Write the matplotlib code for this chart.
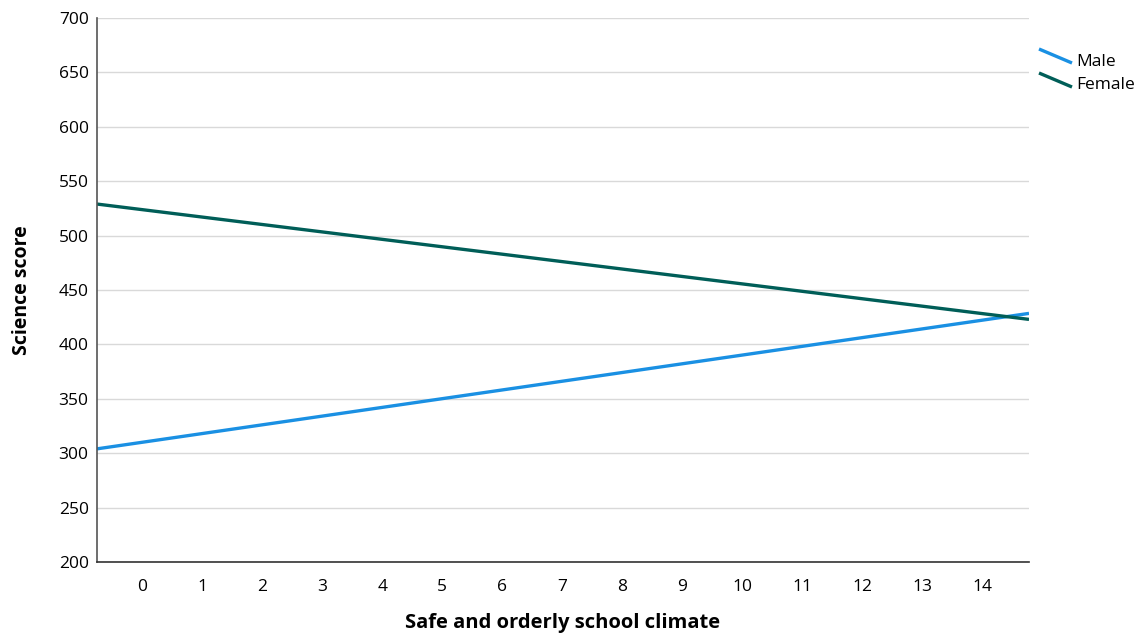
import matplotlib
matplotlib.use("Agg")
import matplotlib.pyplot as plt
from matplotlib.lines import Line2D

plt.rcParams['font.family'] = ['Open Sans', 'DejaVu Sans']

# Data
x_range = [-0.75, 14.77]
male_scores = [304, 428.5]
female_scores = [529, 423]
series_names = ["Male", "Female"]
x_ticks = list(range(0, 15))
y_ticks = [200, 250, 300, 350, 400, 450, 500, 550, 600, 650, 700]

colors = {"Male": "#1a90e3", "Female": "#005e58"}

W, H = 1141, 635
fig = plt.figure(figsize=(W/100, H/100), dpi=100)
ax = fig.add_axes([97/W, 1 - 562/H, (1029-97)/W, (562-18)/H])

ax.plot(x_range, male_scores, color=colors["Male"], lw=2.4, label="Male", solid_capstyle='butt')
ax.plot(x_range, female_scores, color=colors["Female"], lw=2.4, label="Female", solid_capstyle='butt')

ax.set_xlim(x_range)
ax.set_ylim(200, 700)
ax.set_xticks(x_ticks)
ax.set_yticks(y_ticks)
ax.tick_params(axis='both', length=0, labelsize=12.5, colors='#000000')
ax.tick_params(axis='x', pad=12)
ax.tick_params(axis='y', pad=6)
ax.grid(axis='y', color='#d9d9d9', lw=1)
ax.set_axisbelow(True)
for s in ['top', 'right']:
    ax.spines[s].set_visible(False)
ax.spines['left'].set_color('#555555')
ax.spines['bottom'].set_color('#333333')
ax.spines['left'].set_linewidth(1.2)
ax.spines['bottom'].set_linewidth(1.2)

ax.set_xlabel("Safe and orderly school climate", fontsize=14.5, fontweight='bold', labelpad=13)
ax.set_ylabel("Science score", fontsize=14, fontweight='bold', labelpad=19)

# Legend drawn manually with diagonal glyphs
leg_rows = [(series_names[0], 49, 62), (series_names[1], 73, 85)]
for name, y0, ty in leg_rows:
    fig.add_artist(Line2D([1039/W, 1072/W], [1 - y0/H, 1 - (y0 + 14)/H],
                          color=colors[name], lw=2.4, solid_capstyle='butt',
                          transform=fig.transFigure))
    fig.text(1076/W, 1 - ty/H, name, fontsize=12.5, va='center', ha='left')

fig.savefig("out.png", dpi=100)
